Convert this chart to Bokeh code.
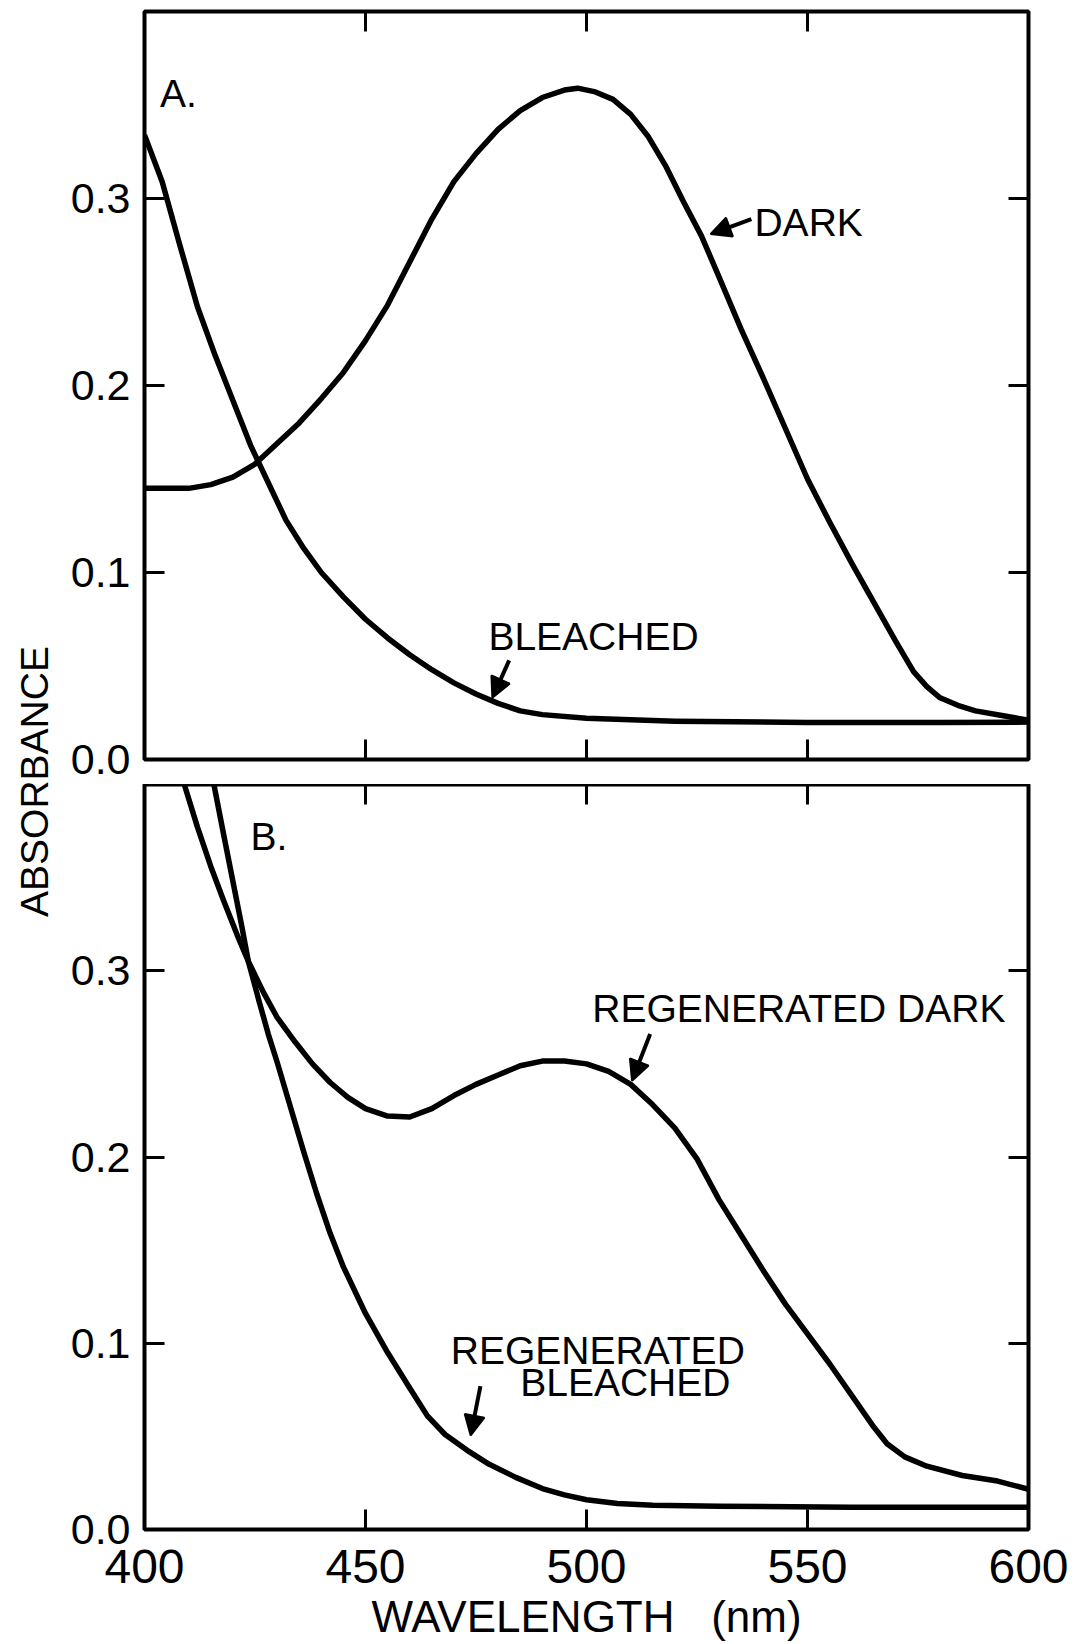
from bokeh.plotting import figure
from bokeh.layouts import row, column
from bokeh.models import (Range1d, LinearAxis, FixedTicker, PrintfTickFormatter,
                          CustomJSTickFormatter, Arrow, NormalHead, Label)
from bokeh.embed import file_html
from bokeh.resources import INLINE

# ---------------- data ----------------
# Panel A
a_dark_wl = [400, 405, 410, 415, 420, 425, 430, 435, 440, 445, 450, 455, 460, 465, 470,
             475, 480, 485, 490, 495, 498, 502, 506, 510, 514, 518, 522, 526, 530, 535,
             540, 545, 550, 555, 560, 565, 570, 574, 577, 580, 584, 588, 594, 600]
a_dark_abs = [0.145, 0.145, 0.145, 0.147, 0.151, 0.158, 0.169, 0.180, 0.193, 0.207, 0.224,
              0.243, 0.266, 0.289, 0.309, 0.324, 0.337, 0.347, 0.354, 0.358, 0.359, 0.357,
              0.353, 0.345, 0.333, 0.317, 0.298, 0.280, 0.258, 0.230, 0.204, 0.177, 0.150,
              0.127, 0.105, 0.084, 0.063, 0.047, 0.039, 0.033, 0.029, 0.026, 0.0235, 0.021]

a_bleached_wl = [400, 404, 408, 412, 416, 420, 424, 428, 432, 436, 440, 445, 450, 455, 460,
                 465, 470, 475, 480, 485, 490, 500, 520, 550, 580, 600]
a_bleached_abs = [0.334, 0.309, 0.275, 0.242, 0.216, 0.192, 0.168, 0.148, 0.128, 0.113,
                  0.100, 0.087, 0.075, 0.065, 0.056, 0.048, 0.041, 0.035, 0.030, 0.026,
                  0.024, 0.022, 0.0205, 0.0198, 0.0198, 0.020]

# Panel B
b_regen_dark_wl = [409, 412, 415, 418, 421, 423.5, 427, 430, 434, 438, 442, 446, 450, 455,
                   460, 465, 470, 475, 480, 485, 490, 495, 500, 505, 510, 515, 520, 525,
                   530, 535, 540, 545, 550, 555, 560, 565, 568, 572, 577, 585, 593, 600]
b_regen_dark_abs = [0.400, 0.377, 0.356, 0.337, 0.319, 0.305, 0.288, 0.275, 0.262, 0.250,
                    0.240, 0.232, 0.226, 0.222, 0.2215, 0.226, 0.233, 0.239, 0.244, 0.249,
                    0.2515, 0.2515, 0.250, 0.246, 0.239, 0.228, 0.2155, 0.199, 0.177, 0.158,
                    0.139, 0.121, 0.105, 0.089, 0.072, 0.055, 0.046, 0.039, 0.034, 0.029,
                    0.026, 0.0216]

b_regen_bleached_wl = [415.7, 418, 420, 422, 423.5, 426, 428, 430, 433, 436, 439, 442, 445,
                       450, 455, 460, 464, 468, 473, 478, 484, 490, 495, 500, 507, 515, 530,
                       560, 600]
b_regen_bleached_abs = [0.400, 0.372, 0.348, 0.324, 0.305, 0.283, 0.266, 0.251, 0.227,
                        0.203, 0.180, 0.159, 0.141, 0.116, 0.095, 0.076, 0.061, 0.051,
                        0.0425, 0.035, 0.028, 0.022, 0.0186, 0.016, 0.014, 0.013, 0.0125,
                        0.012, 0.012]

x_ticks_inner = [450, 500, 550]
x_ticks_labeled = [400, 450, 500, 550, 600]
y_ticks_labeled = [0.0, 0.1, 0.2, 0.3]
y_ticks_inner = [0.1, 0.2, 0.3]

FONT = "Liberation Sans"
LW = 5.5
NOTE_SIZE = "39px"


def make_panel(w, h, bl, br, bt, bb):
    p = figure(width=w, height=h, x_range=Range1d(400, 600), y_range=Range1d(0, 0.4),
               output_backend="svg", toolbar_location=None,
               x_axis_location=None, y_axis_location=None,
               min_border_left=bl, min_border_right=br,
               min_border_top=bt, min_border_bottom=bb)
    p.grid.visible = False
    p.outline_line_color = "black"
    p.outline_line_width = 4
    p.background_fill_color = "white"
    p.border_fill_color = "white"
    return p


def add_axis(p, side, ticks, label_size=None, fmt=None, standoff=0):
    ax = LinearAxis(ticker=FixedTicker(ticks=ticks, minor_ticks=[]),
                    major_tick_in=20, major_tick_out=0,
                    minor_tick_in=0, minor_tick_out=0,
                    major_tick_line_width=3, major_tick_line_color="black",
                    axis_line_color=None,
                    major_label_text_font=FONT,
                    major_label_text_color="black",
                    major_label_standoff=standoff)
    if label_size is None:
        # ticks only, no labels
        ax.formatter = CustomJSTickFormatter(code="return '';")
        ax.major_label_text_font_size = "1px"
        ax.major_label_standoff = 0
    else:
        ax.major_label_text_font_size = label_size
        ax.formatter = fmt
    p.add_layout(ax, side)
    return ax


def arrow(p, xs, ys, xe, ye):
    p.add_layout(Arrow(end=NormalHead(size=20, line_color="black", fill_color="black",
                                      line_width=2),
                       x_start=xs, y_start=ys, x_end=xe, y_end=ye,
                       line_color="black", line_width=4))


def note(p, x, y, t):
    p.add_layout(Label(x=x, y=y, text=t, text_font=FONT, text_font_size=NOTE_SIZE,
                       text_align="left", text_baseline="alphabetic", text_color="black"))


# ---------------- Panel A ----------------
HA = 784
pa = make_panel(1025, HA, 75, 57, 11, 25)
add_axis(pa, "left", y_ticks_labeled, "43px", PrintfTickFormatter(format="%.1f"), 14)
add_axis(pa, "right", y_ticks_inner)
add_axis(pa, "above", x_ticks_inner)
add_axis(pa, "below", x_ticks_inner)

pa.line(a_dark_wl, a_dark_abs, line_color="black", line_width=LW, line_join="round")
pa.line(a_bleached_wl, a_bleached_abs, line_color="black", line_width=LW, line_join="round")

note(pa, 403.5, 0.356, "A.")
note(pa, 538.0, 0.287, "DARK")
arrow(pa, 537.3, 0.289, 528.1, 0.281)
note(pa, 477.8, 0.066, "BLEACHED")
arrow(pa, 482.5, 0.053, 478.7, 0.033)

# ---------------- Panel B ----------------
HB = 1644 - HA
pb = make_panel(1025, HB, 84, 48, 0, 115)
add_axis(pb, "left", y_ticks_labeled, "43px", PrintfTickFormatter(format="%.1f"), 14)
add_axis(pb, "right", y_ticks_inner)
add_axis(pb, "above", x_ticks_inner)
bx = add_axis(pb, "below", x_ticks_labeled, "48px", PrintfTickFormatter(format="%d"), 20)
bx.axis_label = "WAVELENGTH\u00a0\u00a0\u00a0(nm)"
bx.axis_label_text_font = FONT
bx.axis_label_text_font_size = "44px"
bx.axis_label_text_font_style = "normal"
bx.axis_label_text_color = "black"
bx.axis_label_standoff = 6

pb.line(b_regen_dark_wl, b_regen_dark_abs, line_color="black", line_width=LW,
        line_join="round")
pb.line(b_regen_bleached_wl, b_regen_bleached_abs, line_color="black", line_width=LW,
        line_join="round")

note(pb, 424.0, 0.372, "B.")
note(pb, 501.3, 0.280, "REGENERATED DARK")
arrow(pb, 514.4, 0.266, 510.3, 0.241)
note(pb, 469.3, 0.096, "REGENERATED")
note(pb, 485.0, 0.079, "BLEACHED")
arrow(pb, 476.0, 0.077, 473.8, 0.0505)

# ---------------- shared y label ----------------
pl = figure(width=60, height=1644, x_range=Range1d(0, 60), y_range=Range1d(1644, 0),
            output_backend="svg", toolbar_location=None,
            x_axis_location=None, y_axis_location=None, min_border=0)
pl.grid.visible = False
pl.outline_line_color = None
pl.border_fill_color = "white"
pl.background_fill_color = "white"
pl.add_layout(Label(x=34, y=781, text="ABSORBANCE", angle=90, angle_units="deg",
                    text_align="center", text_baseline="middle", text_font=FONT,
                    text_font_size="39px", text_color="black"))

layout = row(pl, column(pa, pb, spacing=0), spacing=0)

open("out.html", "w").write(file_html(layout, INLINE))
